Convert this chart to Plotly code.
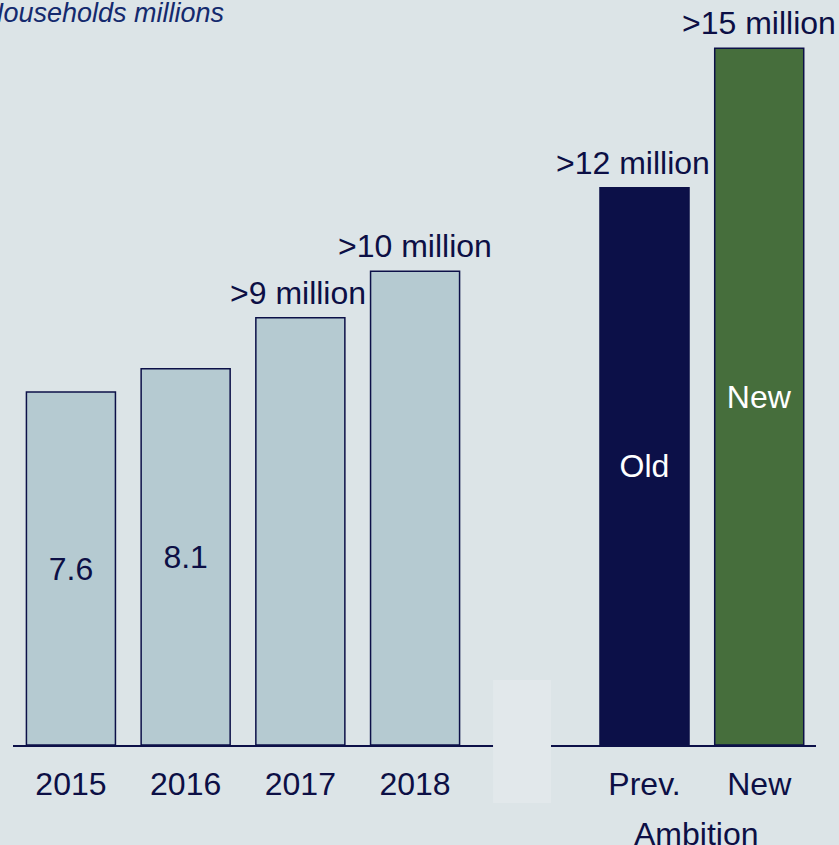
import plotly.graph_objects as go

# Households served, in millions
positions = [0, 1, 2, 3, 5, 6]
values = [7.6, 8.1, 9.2, 10.2, 12, 15]
tick_labels = ["2015", "2016", "2017", "2018", "Prev.", "New"]
inside_labels = ["7.6", "8.1", "", "", "Old", "New"]
outside_labels = ["", "", ">9 million", ">10 million", ">12 million", ">15 million"]
# horizontal nudge (px) keeping the wide labels clear of neighbouring bars
label_shift = [0, 0, -2, 0, -12, 0]

BG = "#dce4e7"
NAVY = "#0c1048"
LIGHT = "#b5cad1"
GREEN = "#466e3c"
TEXT = "#0c0f45"

bar_colors = [LIGHT, LIGHT, LIGHT, LIGHT, NAVY, GREEN]
inside_colors = [TEXT, TEXT, TEXT, TEXT, "white", "white"]

FONT = "Liberation Sans, Arial, sans-serif"
SIZE = 32

fig = go.Figure(
    go.Bar(
        x=positions,
        y=values,
        width=0.776,
        marker=dict(color=bar_colors, line=dict(color=NAVY, width=1.5)),
        text=inside_labels,
        textposition="inside",
        insidetextanchor="middle",
        textangle=0,
        constraintext="none",
        insidetextfont=dict(family=FONT, size=SIZE, color=inside_colors),
        hoverinfo="skip",
    )
)

annotations = []
for xp, v, lab, dx in zip(positions, values, outside_labels, label_shift):
    if lab:
        annotations.append(dict(
            x=xp, y=v, xref="x", yref="y", text=lab, showarrow=False,
            xanchor="center", yanchor="bottom", yshift=5, xshift=dx,
            font=dict(family=FONT, size=SIZE, color=TEXT),
        ))

annotations.append(dict(
    x=5.45, y=-0.093, xref="x", yref="paper", text="Ambition", showarrow=False,
    xanchor="center", yanchor="top",
    font=dict(family=FONT, size=SIZE, color=TEXT),
))
annotations.append(dict(
    x=-0.0385, y=1.006, xref="paper", yref="paper",
    text="<i>Households millions</i>", showarrow=False,
    xanchor="left", yanchor="top",
    font=dict(family=FONT, size=27, color="#142a6e"),
))

fig.update_layout(
    width=839, height=845,
    margin=dict(l=13, r=23, t=0, b=100),
    paper_bgcolor=BG, plot_bgcolor=BG,
    showlegend=False,
    annotations=annotations,
    shapes=[dict(
        type="rect", xref="paper", yref="paper",
        x0=0.5978, x1=0.670, y0=-0.0779, y1=0.0872,
        fillcolor="#e2e8eb", line=dict(width=0), layer="above",
    )],
    xaxis=dict(
        range=[-0.505, 6.495],
        tickvals=positions, ticktext=tick_labels,
        showgrid=False, zeroline=False,
        showline=True, linecolor=NAVY, linewidth=2,
        ticks="", ticklabelstandoff=10,
        tickfont=dict(family=FONT, size=SIZE, color=TEXT),
        fixedrange=True,
    ),
    yaxis=dict(
        range=[0, 16.04], visible=False, fixedrange=True,
    ),
)

fig.write_html("out.html")
